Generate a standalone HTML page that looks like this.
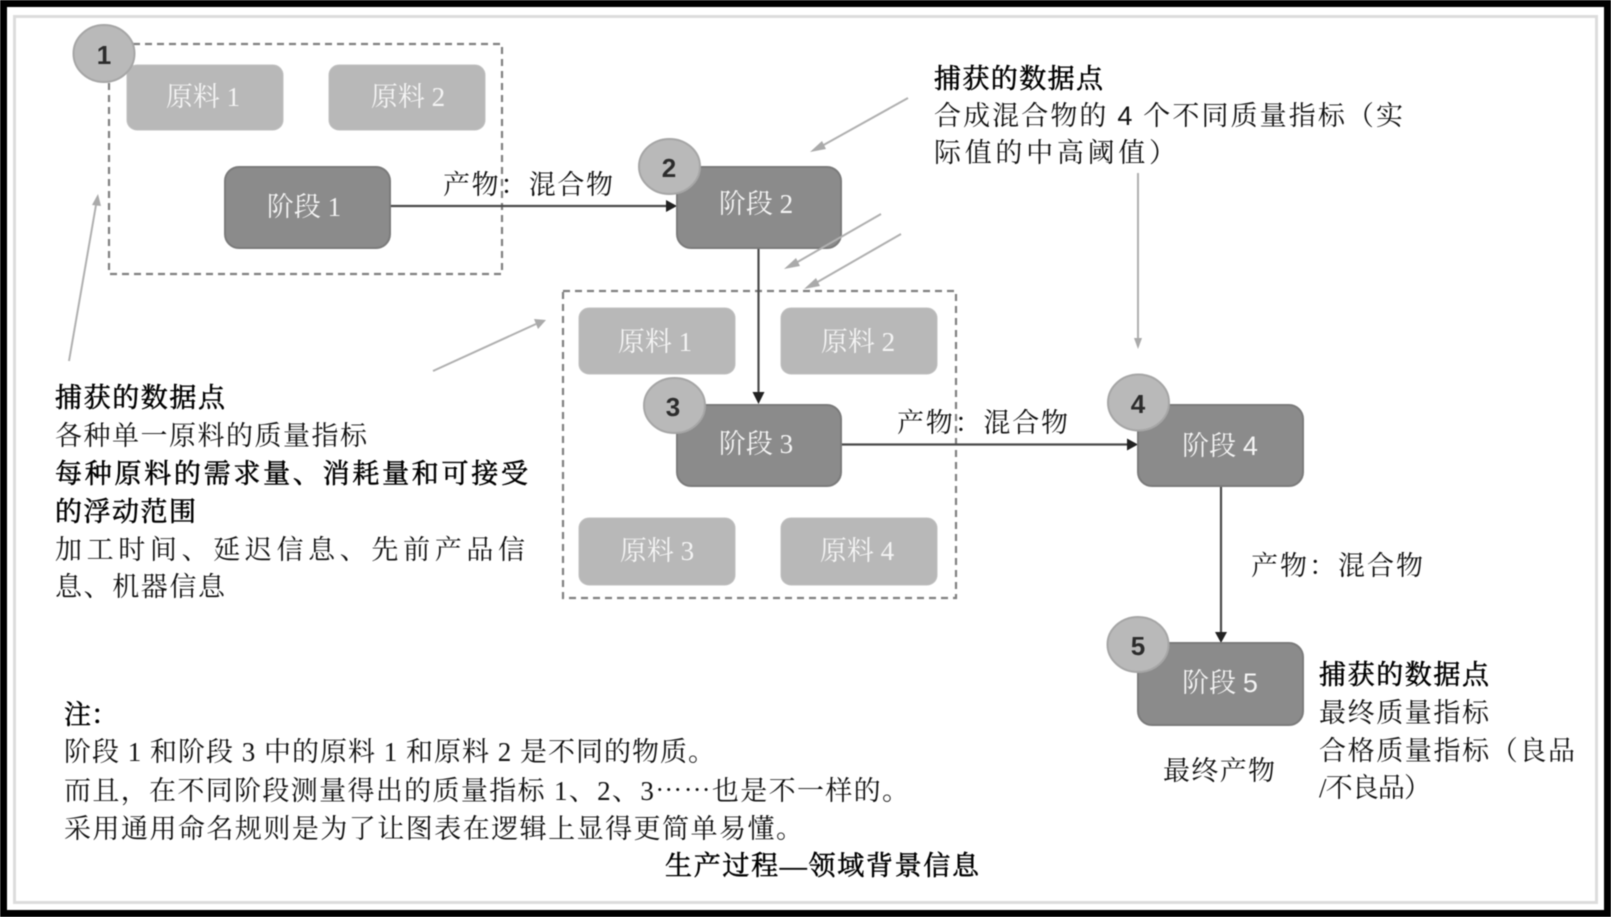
<!DOCTYPE html>
<html lang="zh">
<head>
<meta charset="utf-8">
<style>
html,body{margin:0;padding:0;background:#fff;width:1611px;height:917px;overflow:hidden}
svg{display:block;filter:blur(.4px)}
text{font-family:"Liberation Serif","Noto Serif CJK SC",serif;font-size:27px;fill:#111}
.b{fill:#000;stroke:#000;stroke-width:.55px}
.w{fill:#f4f4f4;text-anchor:middle}
.n{font-family:"Liberation Sans",sans-serif;font-weight:700;font-size:26px;fill:#2c2c2c;text-anchor:middle}
.st{fill:#8b8b8b;stroke:#7b7b7b;stroke-width:2}
.m{fill:#b8b8b8;stroke:#c0c0c0;stroke-width:1}
.c{fill:#b9b9b9;stroke:#a6a6a6;stroke-width:2}
.d{fill:none;stroke:#808080;stroke-width:2.2;stroke-dasharray:7 5}
.l{stroke:#4a4a4a;stroke-width:2.2;fill:none}
.g{stroke:#b0b0b0;stroke-width:2;fill:none}
.s{font-family:"Liberation Sans",sans-serif}
.e{font-family:"Noto Serif CJK SC",serif}
</style>
</head>
<body>
<svg width="1611" height="917" viewBox="0 0 1611 917" xmlns="http://www.w3.org/2000/svg">
<rect x="0" y="0" width="1611" height="917" fill="#000"/>
<rect x="7" y="7" width="1597" height="903" fill="#fff"/>
<rect x="14.5" y="16.5" width="1582" height="886" fill="none" stroke="#dcdcdc" stroke-width="3"/>

<!-- dashed groups -->
<rect class="d" x="109" y="44" width="393" height="230"/>
<rect class="d" x="563" y="291" width="393" height="307"/>

<!-- materials -->
<rect class="m" x="127" y="65" width="156" height="65" rx="10"/>
<rect class="m" x="329" y="65" width="156" height="65" rx="10"/>
<rect class="m" x="579" y="308" width="156" height="66" rx="10"/>
<rect class="m" x="781" y="308" width="156" height="66" rx="10"/>
<rect class="m" x="579" y="518" width="156" height="67" rx="10"/>
<rect class="m" x="781" y="518" width="156" height="67" rx="10"/>

<!-- black connectors -->
<path class="l" d="M390 206H668"/><path d="M666 200L677 206L666 212Z" fill="#222"/>
<path class="l" d="M758.500 248V394"/><path d="M752.500 392L758.500 404L764.500 392Z" fill="#222"/>
<path class="l" d="M840 444.500H1129"/><path d="M1127 438.500L1138 444.500L1127 450.500Z" fill="#222"/>
<path class="l" d="M1221 486V634"/><path d="M1215 632L1221 643L1227 632Z" fill="#222"/>

<!-- stages -->
<rect class="st" x="225" y="167" width="165" height="81" rx="14"/>
<rect class="st" x="677" y="167" width="164" height="81" rx="14"/>
<rect class="st" x="677" y="405" width="164" height="81" rx="14"/>
<rect class="st" x="1138" y="405" width="165" height="81" rx="14"/>
<rect class="st" x="1138" y="643" width="165" height="82" rx="14"/>

<!-- grey callout arrows -->
<path class="g" d="M69 361L96 205"/><path d="M92 205L98 194L101 206Z" fill="#aaa"/>
<path class="g" d="M908 98L820 147"/><path d="M822 141L810 152L826 149Z" fill="#aaa"/>
<path class="g" d="M881 214L794 264"/><path d="M796 258L784 269L800 266Z" fill="#aaa"/>
<path class="g" d="M901 234L814 284"/><path d="M816 278L804 289L820 286Z" fill="#aaa"/>
<path class="g" d="M433 371L536 324"/><path d="M534 319L546 320L538 329Z" fill="#aaa"/>
<path class="g" d="M1138 173V339"/><path d="M1134 338L1138 349L1142 338Z" fill="#aaa"/>

<!-- numbered circles -->
<ellipse class="c" cx="104" cy="53.500" rx="30.500" ry="28.500"/>
<ellipse class="c" cx="669.500" cy="166.500" rx="30.500" ry="27.500"/>
<ellipse class="c" cx="674.500" cy="405.500" rx="30.500" ry="27.500"/>
<ellipse class="c" cx="1138.500" cy="402.500" rx="30.500" ry="28"/>
<ellipse class="c" cx="1138" cy="644.500" rx="30.500" ry="27.500"/>
<text class="n" x="104" y="64">1</text>
<text class="n" x="669" y="177">2</text>
<text class="n" x="673" y="416">3</text>
<text class="n" x="1138" y="413">4</text>
<text class="n" x="1138" y="655">5</text>

<!-- node labels -->
<text class="w" x="203" y="106">原料 1</text>
<text class="w" x="408" y="106">原料 2</text>
<text class="w" x="304" y="216">阶段 1</text>
<text class="w" x="756" y="213">阶段 2</text>
<text class="w" x="655" y="351">原料 1</text>
<text class="w" x="858" y="351">原料 2</text>
<text class="w" x="756" y="453">阶段 3</text>
<text class="w" x="657" y="560">原料 3</text>
<text class="w" x="857" y="560">原料 4</text>
<text class="w" x="1220" y="455">阶段 <tspan class="s">4</tspan></text>
<text class="w" x="1220" y="692">阶段 <tspan class="s">5</tspan></text>

<!-- edge labels -->
<text x="443" y="194" textLength="170">产物：混合物</text>
<text x="897" y="432" textLength="171">产物：混合物</text>
<text x="1251" y="575" textLength="172">产物：混合物</text>
<text x="1163" y="780" textLength="112">最终产物</text>

<!-- top right notes -->
<text class="b" x="934" y="88" textLength="169">捕获的数据点</text>
<text x="934" y="125" textLength="469">合成混合物的 <tspan class="s">4</tspan> 个不同质量指标（实</text>
<text x="934" y="162" textLength="242">际值的中高阈值）</text>

<!-- left notes -->
<text class="b" x="55" y="407" textLength="170">捕获的数据点</text>
<text x="55" y="445" textLength="312">各种单一原料的质量指标</text>
<text class="b" x="55" y="483" textLength="473">每种原料的需求量、消耗量和可接受</text>
<text class="b" x="55" y="521" textLength="141">的浮动范围</text>
<text x="55" y="559" textLength="470">加工时间、延迟信息、先前产品信</text>
<text x="55" y="596" textLength="170">息、机器信息</text>

<!-- right notes -->
<text class="b" x="1319" y="684" textLength="170">捕获的数据点</text>
<text x="1319" y="722" textLength="170">最终质量指标</text>
<text x="1319" y="760" textLength="256">合格质量指标（良品</text>
<text x="1319" y="797" textLength="112">/不良品）</text>

<!-- footnotes -->
<text class="b" x="64" y="724">注：</text>
<text x="64" y="761" textLength="651">阶段 1 和阶段 3 中的原料 1 和原料 2 是不同的物质。</text>
<text x="64" y="800" textLength="845">而且，在不同阶段测量得出的质量指标 1、2、3<tspan class="e">……</tspan>也是不一样的。</text>
<text x="64" y="838" textLength="739">采用通用命名规则是为了让图表在逻辑上显得更简单易懂。</text>
<text class="b" x="665" y="875" textLength="314">生产过程—领域背景信息</text>
</svg>
</body>
</html>
